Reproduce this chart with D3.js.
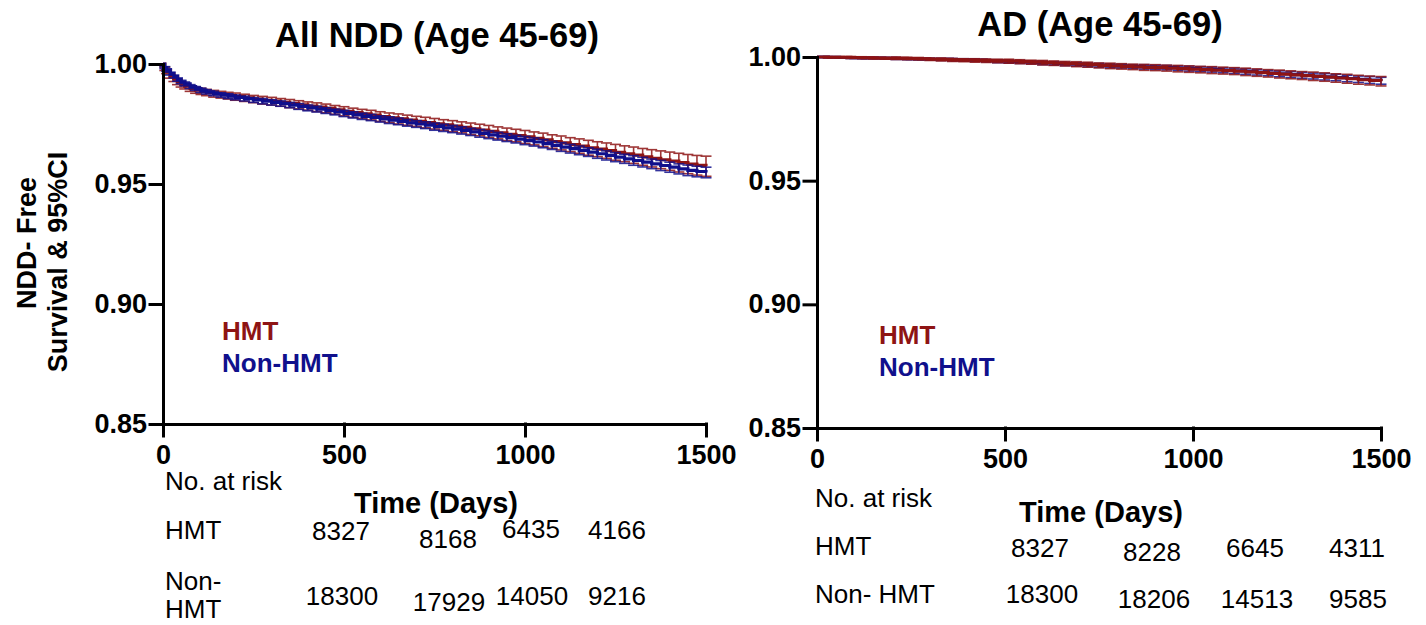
<!DOCTYPE html>
<html>
<head>
<meta charset="utf-8">
<script src="https://cdn.jsdelivr.net/npm/d3@7/dist/d3.min.js"></script>
<style>
  body { margin: 0; background: #fff; }
  svg text { font-family: "Liberation Sans", Arial, sans-serif; fill: #000; }
  .axis path, .axis line { stroke: #000; stroke-width: 3; stroke-linecap: square; }
  .axis text { font-size: 27px; font-weight: bold; }
  .title { font-size: 34.5px; font-weight: bold; }
  .ylab { font-size: 27px; font-weight: bold; }
  .xlab { font-size: 29px; font-weight: bold; }
  .legend { font-size: 26px; font-weight: bold; }
  .risk { font-size: 26px; }
</style>
</head>
<body>
<script>

// ---------- All NDD (Age 45-69) ----------
var nddTimes = [0, 5, 10, 20, 30, 40, 50, 60, 75, 90, 105, 120, 140, 160, 180, 200,
  225, 250, 275, 300, 325, 350, 375, 400, 425, 450, 475, 500, 525, 550, 575, 600,
  625, 650, 675, 700, 725, 750, 775, 800, 825, 850, 875, 900, 925, 950, 975, 1000,
  1025, 1050, 1075, 1100, 1125, 1150, 1175, 1200, 1225, 1250, 1275, 1300, 1325, 1350,
  1375, 1400, 1425, 1450, 1475, 1500];

var nddHmt = [1.0000, 0.9980, 0.9968, 0.9950, 0.9937, 0.9925, 0.9915, 0.9908, 0.9898, 0.9891, 0.9886, 0.9881, 0.9876, 0.9872, 0.9868, 0.9864,
  0.9859, 0.9854, 0.9849, 0.9845, 0.9840, 0.9835, 0.9830, 0.9825, 0.9820, 0.9815, 0.9809, 0.9803, 0.9797, 0.9792, 0.9787, 0.9781,
  0.9776, 0.9771, 0.9766, 0.9761, 0.9756, 0.9751, 0.9746, 0.9741, 0.9736, 0.9730, 0.9725, 0.9719, 0.9713, 0.9707, 0.9702, 0.9696,
  0.9690, 0.9684, 0.9677, 0.9671, 0.9664, 0.9658, 0.9651, 0.9645, 0.9639, 0.9632, 0.9626, 0.9620, 0.9613, 0.9607,
  0.9601, 0.9595, 0.9589, 0.9583, 0.9578, 0.9574];

var nddHmtCI = [0, 0.0007, 0.0008, 0.0009, 0.0010, 0.0011, 0.0011, 0.0012, 0.0012, 0.0013, 0.0013, 0.0013, 0.0014, 0.0014, 0.0014, 0.0015,
  0.0015, 0.0015, 0.0016, 0.0016, 0.0016, 0.0017, 0.0017, 0.0017, 0.0018, 0.0018, 0.0018, 0.0019, 0.0019, 0.0019, 0.0020, 0.0020,
  0.0020, 0.0021, 0.0021, 0.0021, 0.0022, 0.0022, 0.0022, 0.0023, 0.0023, 0.0024, 0.0024, 0.0025, 0.0025, 0.0026, 0.0026, 0.0027,
  0.0027, 0.0028, 0.0028, 0.0029, 0.0029, 0.0030, 0.0031, 0.0031, 0.0032, 0.0033, 0.0033, 0.0034, 0.0035, 0.0036,
  0.0037, 0.0038, 0.0039, 0.0040, 0.0041, 0.0042];

var nddNon = [1.0000, 0.9985, 0.9975, 0.9960, 0.9948, 0.9935, 0.9925, 0.9917, 0.9906, 0.9898, 0.9890, 0.9884, 0.9877, 0.9871, 0.9866, 0.9861,
  0.9856, 0.9850, 0.9845, 0.9840, 0.9835, 0.9829, 0.9823, 0.9817, 0.9812, 0.9806, 0.9800, 0.9794, 0.9788, 0.9782, 0.9777, 0.9771,
  0.9766, 0.9761, 0.9755, 0.9750, 0.9745, 0.9739, 0.9734, 0.9729, 0.9723, 0.9717, 0.9711, 0.9705, 0.9699, 0.9693, 0.9687, 0.9681,
  0.9675, 0.9668, 0.9661, 0.9654, 0.9647, 0.9640, 0.9633, 0.9626, 0.9619, 0.9612, 0.9605, 0.9598, 0.9591, 0.9584,
  0.9577, 0.9570, 0.9563, 0.9557, 0.9552, 0.9548];

var nddNonCI = [0, 0.0004, 0.0005, 0.0006, 0.0006, 0.0007, 0.0007, 0.0008, 0.0008, 0.0008, 0.0009, 0.0009, 0.0009, 0.0009, 0.0010, 0.0010,
  0.0010, 0.0010, 0.0011, 0.0011, 0.0011, 0.0011, 0.0012, 0.0012, 0.0012, 0.0012, 0.0012, 0.0013, 0.0013, 0.0013, 0.0013, 0.0013,
  0.0014, 0.0014, 0.0014, 0.0014, 0.0014, 0.0015, 0.0015, 0.0015, 0.0015, 0.0015, 0.0016, 0.0016, 0.0016, 0.0016, 0.0016, 0.0017,
  0.0017, 0.0017, 0.0017, 0.0018, 0.0018, 0.0018, 0.0018, 0.0019, 0.0019, 0.0019, 0.0019, 0.0020, 0.0020, 0.0020,
  0.0021, 0.0021, 0.0021, 0.0022, 0.0022, 0.0022];

var nddRiskHmt = ["8327", "8168", "6435", "4166"];
var nddRiskNon = ["18300", "17929", "14050", "9216"];

// ---------- AD (Age 45-69) ----------
var adTimes = [0, 30, 60, 90, 120, 150, 180, 210, 240, 270, 300, 330, 360, 390, 420, 450, 480,
  510, 540, 570, 600, 630, 660, 690, 720, 750, 780, 810, 840, 870, 900, 930, 960, 990,
  1020, 1050, 1080, 1110, 1140, 1170, 1200, 1230, 1260, 1290, 1320, 1350, 1380, 1410, 1440, 1470, 1500];

var adHmt = [1.0000, 0.9999, 0.9999, 0.9998, 0.9997, 0.9996, 0.9995, 0.9995, 0.9994, 0.9993, 0.9991, 0.9990, 0.9988, 0.9987, 0.9986, 0.9985, 0.9984,
  0.9983, 0.9981, 0.9979, 0.9977, 0.9975, 0.9973, 0.9971, 0.9969, 0.9966, 0.9964, 0.9962, 0.9960, 0.9958, 0.9957, 0.9955, 0.9953, 0.9951,
  0.9949, 0.9947, 0.9945, 0.9943, 0.9940, 0.9937, 0.9934, 0.9931, 0.9928, 0.9925, 0.9922, 0.9919, 0.9915, 0.9912, 0.9908, 0.9905, 0.9902];

var adHmtCI = [0, 0.0003, 0.0003, 0.0004, 0.0004, 0.0004, 0.0004, 0.0005, 0.0005, 0.0005, 0.0005, 0.0006, 0.0006, 0.0006, 0.0007, 0.0007, 0.0007,
  0.0008, 0.0008, 0.0008, 0.0009, 0.0009, 0.0009, 0.0010, 0.0010, 0.0010, 0.0011, 0.0011, 0.0011, 0.0012, 0.0012, 0.0012, 0.0013, 0.0013,
  0.0013, 0.0014, 0.0014, 0.0014, 0.0015, 0.0015, 0.0015, 0.0016, 0.0016, 0.0016, 0.0017, 0.0017, 0.0017, 0.0018, 0.0018, 0.0018, 0.0019];

var adNon = [1.0000, 0.9999, 0.9998, 0.9997, 0.9996, 0.9996, 0.9995, 0.9994, 0.9993, 0.9992, 0.9991, 0.9990, 0.9989, 0.9988, 0.9987, 0.9985, 0.9983,
  0.9981, 0.9980, 0.9978, 0.9976, 0.9974, 0.9972, 0.9970, 0.9968, 0.9966, 0.9964, 0.9963, 0.9961, 0.9960, 0.9958, 0.9957, 0.9955, 0.9953,
  0.9951, 0.9949, 0.9946, 0.9944, 0.9941, 0.9938, 0.9935, 0.9932, 0.9929, 0.9926, 0.9923, 0.9920, 0.9917, 0.9913, 0.9910, 0.9907, 0.9904];

var adNonCI = [0, 0.0002, 0.0002, 0.0003, 0.0003, 0.0003, 0.0003, 0.0004, 0.0004, 0.0004, 0.0004, 0.0004, 0.0005, 0.0005, 0.0005, 0.0005, 0.0006,
  0.0006, 0.0006, 0.0006, 0.0007, 0.0007, 0.0007, 0.0007, 0.0008, 0.0008, 0.0008, 0.0008, 0.0008, 0.0009, 0.0009, 0.0009, 0.0009, 0.0010,
  0.0010, 0.0010, 0.0010, 0.0011, 0.0011, 0.0011, 0.0011, 0.0012, 0.0012, 0.0012, 0.0012, 0.0013, 0.0013, 0.0013, 0.0013, 0.0014, 0.0014];

var adRiskHmt = ["8327", "8228", "6645", "4311"];
var adRiskNon = ["18300", "18206", "14513", "9585"];

var xTicks = [0, 500, 1000, 1500];
var yTicks = [0.85, 0.90, 0.95, 1.00];
var hmtColor = "#8e1414";
var nonColor = "#10108c";

var svg = d3.select("body").append("svg")
    .attr("width", 1426)
    .attr("height", 625);

function drawSeries(g, x, y, times, surv, ci, color) {
  var line = d3.line()
      .x(function(d, i) { return x(times[i]); })
      .y(function(d) { return y(d); })
      .curve(d3.curveStepAfter);

  g.append("path")
      .datum(surv)
      .attr("fill", "none")
      .attr("stroke", color)
      .attr("stroke-width", 3.2)
      .attr("d", line);

  var bars = g.append("g")
      .attr("stroke", color)
      .attr("stroke-width", 1.6)
      .attr("opacity", 0.85);

  surv.forEach(function(s, i) {
    if (ci[i] <= 0) return;
    var cx = x(times[i]), lo = y(s - ci[i]), hi = y(s + ci[i]);
    bars.append("line").attr("x1", cx).attr("x2", cx).attr("y1", lo).attr("y2", hi);
    bars.append("line").attr("x1", cx - 5.5).attr("x2", cx + 5.5).attr("y1", lo).attr("y2", lo);
    bars.append("line").attr("x1", cx - 5.5).attr("x2", cx + 5.5).attr("y1", hi).attr("y2", hi);
  });
}

function drawPanel(p) {
  var g = svg.append("g");
  var x = d3.scaleLinear().domain([0, 1500]).range([p.x0, p.x1]);
  var y = d3.scaleLinear().domain([0.85, 1.0]).range([p.yBot, p.yTop]);

  p.series.forEach(function(s) {
    drawSeries(g, x, y, p.times, s.surv, s.ci, s.color);
  });

  // y-axis
  g.append("g")
      .attr("class", "axis")
      .attr("transform", "translate(" + p.x0 + ",0)")
      .call(d3.axisLeft(y).tickValues(yTicks).tickFormat(d3.format(".2f"))
        .tickSize(13).tickSizeOuter(0).tickPadding(3));

  // x-axis
  g.append("g")
      .attr("class", "axis")
      .attr("transform", "translate(0," + p.yBot + ")")
      .call(d3.axisBottom(x).tickValues(xTicks).tickFormat(d3.format("d"))
        .tickSize(12).tickSizeOuter(0).tickPadding(9));

  g.append("text")
      .attr("class", "title")
      .attr("x", p.titleX).attr("y", p.titleY)
      .attr("text-anchor", "middle")
      .text(p.title);

  g.append("text")
      .attr("class", "xlab")
      .attr("x", p.xlabX).attr("y", p.xlabY)
      .attr("text-anchor", "middle")
      .text("Time (Days)");

  // legend
  g.append("text").attr("class", "legend")
      .attr("x", p.legX).attr("y", p.legY)
      .style("fill", hmtColor).text("HMT");
  g.append("text").attr("class", "legend")
      .attr("x", p.legX).attr("y", p.legY + 32)
      .style("fill", nonColor).text("Non-HMT");

  // number at risk table
  g.append("text").attr("class", "risk")
      .attr("x", p.tabX).attr("y", p.riskY).text("No. at risk");
  g.append("text").attr("class", "risk")
      .attr("x", p.tabX).attr("y", p.row1Y[0]).text("HMT");
  p.nonLabel.forEach(function(t, i) {
    g.append("text").attr("class", "risk")
        .attr("x", p.tabX).attr("y", p.row2Y[i]).text(t);
  });

  g.selectAll(".r1").data(p.riskHmt).enter().append("text")
      .attr("class", "risk")
      .attr("text-anchor", "middle")
      .attr("x", function(d, i) { return p.colX1[i]; })
      .attr("y", function(d, i) { return p.base1[i]; })
      .text(function(d) { return d; });

  g.selectAll(".r2").data(p.riskNon).enter().append("text")
      .attr("class", "risk")
      .attr("text-anchor", "middle")
      .attr("x", function(d, i) { return p.colX2[i]; })
      .attr("y", function(d, i) { return p.base2[i]; })
      .text(function(d) { return d; });
}

drawPanel({
  title: "All NDD (Age 45-69)", titleX: 437, titleY: 47,
  x0: 163, x1: 706, yTop: 64, yBot: 424,
  times: nddTimes,
  series: [
    { surv: nddHmt, ci: nddHmtCI, color: hmtColor },
    { surv: nddNon, ci: nddNonCI, color: nonColor }
  ],
  xlabX: 436, xlabY: 513,
  legX: 222, legY: 340,
  tabX: 165, riskY: 490,
  row1Y: [539], row2Y: [590, 618], nonLabel: ["Non-", "HMT"],
  riskHmt: nddRiskHmt, riskNon: nddRiskNon,
  colX1: [341, 448, 531, 617], base1: [540, 548, 538, 539],
  colX2: [342, 449, 532, 617], base2: [605, 611, 605, 605]
});

drawPanel({
  title: "AD (Age 45-69)", titleX: 1100, titleY: 36,
  x0: 817, x1: 1381, yTop: 57, yBot: 428,
  times: adTimes,
  series: [
    { surv: adNon, ci: adNonCI, color: nonColor },
    { surv: adHmt, ci: adHmtCI, color: hmtColor }
  ],
  xlabX: 1101, xlabY: 522,
  legX: 879, legY: 344,
  tabX: 815, riskY: 507,
  row1Y: [555], row2Y: [603], nonLabel: ["Non- HMT"],
  riskHmt: adRiskHmt, riskNon: adRiskNon,
  colX1: [1040, 1152, 1255, 1357], base1: [557, 561, 557, 557],
  colX2: [1042, 1154, 1257, 1358], base2: [603, 608, 608, 608]
});

// shared y-axis title
svg.append("text").attr("class", "ylab")
    .attr("transform", "translate(36,243) rotate(-90)")
    .attr("text-anchor", "middle")
    .text("NDD- Free");
svg.append("text").attr("class", "ylab")
    .attr("transform", "translate(67,262) rotate(-90)")
    .attr("text-anchor", "middle")
    .text("Survival & 95%CI");

</script>
</body>
</html>
